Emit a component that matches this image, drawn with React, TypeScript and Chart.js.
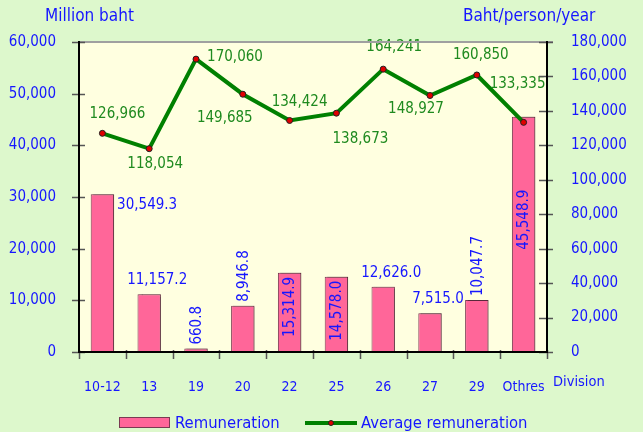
import React, { useEffect, useRef } from "react";
import { Chart, registerables } from "chart.js";

Chart.register(...registerables);

// ---------- data ----------
const categories = ["10-12", "13", "19", "20", "22", "25", "26", "27", "29", "Othres"];
const remuneration = [30549.3, 11157.2, 660.8, 8946.8, 15314.9, 14578.0, 12626.0, 7515.0, 10047.7, 45548.9];
const averageRemuneration = [126966, 118054, 170060, 149685, 134424, 138673, 164241, 148927, 160850, 133335];
const leftTickValues = [0, 10000, 20000, 30000, 40000, 50000, 60000];
const rightTickValues = [0, 20000, 40000, 60000, 80000, 100000, 120000, 140000, 160000, 180000];

// ---------- label placement (style) ----------
const barLabelMode = ["right", "above", "vAbove", "vAbove", "vInside", "vInside", "above", "above", "vAbove", "vMid"];
const lineLabelOffsets: [number, number][] = [
  [15, -19], [6, 15], [39, -2], [-18, 24], [10, -18],
  [24, 26], [11, -22], [-14, 14], [4, -20], [-6, -38],
];

const FONT = '"DejaVu Sans Condensed", "DejaVu Sans"';
const BLUE = "#1616ff";
const GREEN_TEXT = "#1f8a1f";
const LINE_GREEN = "#008000";
const BAR_PINK = "#ff6699";
const BAR_BORDER = "#7a3a52";
const PAGE_BG = "#ddf8cc";
const PLOT_BG = "#ffffe0";

const fmtInt = (v: number) => v.toLocaleString("en-US");
const fmt1 = (v: number) => v.toLocaleString("en-US", { minimumFractionDigits: 1, maximumFractionDigits: 1 });

const decorPlugin = {
  id: "decor",
  beforeDraw(chart: any) {
    const { ctx, chartArea } = chart;
    ctx.save();
    ctx.fillStyle = PAGE_BG;
    ctx.fillRect(0, 0, chart.width, chart.height);
    ctx.fillStyle = PLOT_BG;
    ctx.fillRect(chartArea.left, chartArea.top, chartArea.right - chartArea.left, chartArea.bottom - chartArea.top);
    ctx.restore();
  },
  beforeDatasetDraw(chart: any, args: any) {
    if (args.index === 0) {
      const ctx = chart.ctx;
      ctx.save();
      ctx.shadowColor = "rgba(0,0,0,0.28)";
      ctx.shadowOffsetX = 2;
      ctx.shadowOffsetY = -1;
      ctx.shadowBlur = 1;
    }
  },
  afterDatasetDraw(chart: any, args: any) {
    if (args.index === 0) chart.ctx.restore();
  },
  afterDraw(chart: any) {
    const { ctx, chartArea } = chart;
    const sy = chart.scales.y;
    const sy1 = chart.scales.y1;
    ctx.save();
    // top border
    ctx.strokeStyle = "#a0a0a0";
    ctx.lineWidth = 2;
    ctx.beginPath();
    ctx.moveTo(chartArea.left, chartArea.top);
    ctx.lineTo(chartArea.right + 6, chartArea.top);
    ctx.stroke();
    // tick marks (crossing)
    ctx.strokeStyle = "#555";
    ctx.lineWidth = 1.5;
    ctx.beginPath();
    leftTickValues.forEach((v) => {
      const y = Math.round(sy.getPixelForValue(v)) + 0.5;
      ctx.moveTo(chartArea.left - 7, y);
      ctx.lineTo(chartArea.left + 6, y);
    });
    rightTickValues.forEach((v) => {
      const y = Math.round(sy1.getPixelForValue(v)) + 0.5;
      ctx.moveTo(chartArea.right - 8, y);
      ctx.lineTo(chartArea.right + 6, y);
    });
    const n = categories.length;
    const step = (chartArea.right - chartArea.left) / n;
    for (let i = 0; i <= n; i++) {
      const x = Math.round(chartArea.left + i * step) + 0.5;
      ctx.moveTo(x, chartArea.bottom - 2);
      ctx.lineTo(x, chartArea.bottom + 7);
    }
    ctx.stroke();
    // axis lines
    ctx.strokeStyle = "#000";
    ctx.lineWidth = 2;
    ctx.beginPath();
    ctx.moveTo(chartArea.left, chartArea.top - 1);
    ctx.lineTo(chartArea.left, chartArea.bottom);
    ctx.lineTo(chartArea.right, chartArea.bottom);
    ctx.lineTo(chartArea.right, chartArea.top - 1);
    ctx.stroke();

    // titles
    ctx.font = `17px ${FONT}`;
    ctx.fillStyle = BLUE;
    ctx.textBaseline = "middle";
    ctx.textAlign = "left";
    ctx.fillText("Million baht", 45, 17);
    ctx.fillText("Baht/person/year", 463, 17);
    ctx.font = `14.5px ${FONT}`;
    ctx.fillText("Division", 553, 382);

    // legend
    const ly = 423;
    ctx.font = `16.5px ${FONT}`;
    ctx.fillStyle = BAR_PINK;
    ctx.fillRect(119, 417, 51, 11);
    ctx.strokeStyle = BAR_BORDER;
    ctx.lineWidth = 1;
    ctx.strokeRect(119.5, 417.5, 50, 10);
    ctx.fillStyle = BLUE;
    ctx.fillText("Remuneration", 175, ly + 1);
    ctx.strokeStyle = LINE_GREEN;
    ctx.lineWidth = 4;
    ctx.beginPath();
    ctx.moveTo(305, ly);
    ctx.lineTo(357, ly);
    ctx.stroke();
    ctx.fillStyle = "#e00000";
    ctx.strokeStyle = "#222";
    ctx.lineWidth = 1;
    ctx.beginPath();
    ctx.arc(331, ly, 2.5, 0, Math.PI * 2);
    ctx.fill();
    ctx.stroke();
    ctx.fillStyle = BLUE;
    ctx.fillText("Average remuneration", 361, ly + 1);
    ctx.restore();
  },
  afterDatasetsDraw(chart: any) {
    const { ctx } = chart;
    const barMeta = chart.getDatasetMeta(0);
    const lineMeta = chart.getDatasetMeta(1);
    ctx.save();
    ctx.font = `15px ${FONT}`;
    ctx.textBaseline = "middle";
    // bar labels
    ctx.fillStyle = BLUE;
    barMeta.data.forEach((bar: any, i: number) => {
      const txt = fmt1(remuneration[i]);
      const mode = barLabelMode[i];
      const half = bar.width / 2;
      if (mode === "right") {
        ctx.textAlign = "left";
        ctx.fillText(txt, bar.x + half + 3, bar.y + 11);
      } else if (mode === "above") {
        ctx.textAlign = "center";
        ctx.fillText(txt, bar.x + 8, bar.y - 14);
      } else {
        ctx.save();
        ctx.translate(bar.x + 1, bar.y);
        ctx.rotate(-Math.PI / 2);
        if (mode === "vAbove") {
          ctx.textAlign = "left";
          ctx.fillText(txt, 4, 0);
        } else if (mode === "vInside") {
          ctx.textAlign = "right";
          ctx.fillText(txt, -4, 0);
        } else {
          ctx.textAlign = "right";
          ctx.fillText(txt, -73, 0);
        }
        ctx.restore();
      }
    });
    // line labels
    ctx.fillStyle = GREEN_TEXT;
    ctx.textAlign = "center";
    lineMeta.data.forEach((pt: any, i: number) => {
      const [dx, dy] = lineLabelOffsets[i];
      ctx.fillText(fmtInt(averageRemuneration[i]), pt.x + dx, pt.y + dy);
    });
    ctx.restore();
  },
};

export default function App() {
  const canvasRef = useRef<HTMLCanvasElement | null>(null);

  useEffect(() => {
    document.body.style.margin = "0";
    const canvas = canvasRef.current;
    if (!canvas) return;
    const tickFont = { family: FONT, size: 15 };
    const chart = new Chart(canvas, {
      type: "bar",
      data: {
        labels: categories,
        datasets: [
          {
            type: "bar",
            label: "Remuneration",
            data: remuneration,
            backgroundColor: BAR_PINK,
            borderColor: BAR_BORDER,
            borderWidth: 1,
            barPercentage: 0.5,
            categoryPercentage: 1,
            yAxisID: "y",
            order: 2,
          },
          {
            type: "line",
            label: "Average remuneration",
            data: averageRemuneration,
            borderColor: LINE_GREEN,
            borderWidth: 4,
            pointRadius: 3,
            pointBackgroundColor: "#e00000",
            pointBorderColor: "#222",
            pointBorderWidth: 1,
            tension: 0,
            yAxisID: "y1",
            order: 1,
          },
        ] as any,
      },
      options: {
        animation: false,
        responsive: false,
        layout: { padding: { top: 42, left: 0, right: 0, bottom: 0 } },
        plugins: { legend: { display: false }, tooltip: { enabled: false } },
        scales: {
          x: {
            grid: { display: false, drawTicks: false },
            border: { display: false },
            ticks: { color: BLUE, font: { ...tickFont, size: 14 }, padding: 27, maxRotation: 0 },
            afterFit: (s: any) => { s.height = 80; },
          },
          y: {
            position: "left",
            min: 0,
            max: 60000,
            grid: { display: false, drawTicks: false },
            border: { display: false },
            ticks: {
              stepSize: 10000,
              color: BLUE,
              font: tickFont,
              padding: 23,
              callback: (v: any) => fmtInt(Number(v)),
            },
            afterFit: (s: any) => { s.width = 79; },
          },
          y1: {
            position: "right",
            min: 0,
            max: 180000,
            grid: { display: false, drawTicks: false },
            border: { display: false },
            ticks: {
              stepSize: 20000,
              color: BLUE,
              font: tickFont,
              padding: 24,
              callback: (v: any) => fmtInt(Number(v)),
            },
            afterFit: (s: any) => { s.width = 96; },
          },
        },
      } as any,
      plugins: [decorPlugin],
    });
    return () => chart.destroy();
  }, []);

  return (
    <div style={{ width: 643, height: 432 }}>
      <canvas ref={canvasRef} width={643} height={432} style={{ display: "block" }} />
    </div>
  );
}
